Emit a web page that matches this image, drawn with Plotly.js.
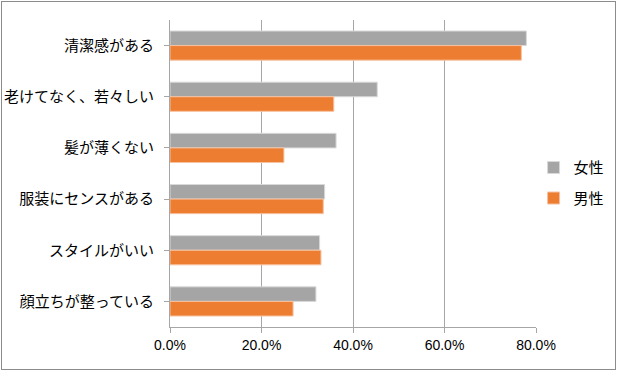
<!DOCTYPE html>
<html>
<head>
<meta charset="utf-8">
<script src="https://cdn.plot.ly/plotly-3.0.1.min.js"></script>
<style>
body{margin:0;padding:0;background:#fff;}
#wrap{position:relative;width:619px;height:373px;}
#chart{width:619px;height:373px;}
#frame{position:absolute;left:1px;top:1px;width:615px;height:369px;border:1px solid #8c8c8c;box-sizing:border-box;pointer-events:none;}
</style>
</head>
<body>
<div id="wrap"><div id="chart"></div><div id="frame"></div></div>
<script>
const categories = ["清潔感がある","老けてなく、若々しい","髪が薄くない","服装にセンスがある","スタイルがいい","顔立ちが整っている"];
const female = [77.9, 45.3, 36.3, 33.8, 32.7, 31.9];
const male = [76.8, 35.8, 24.9, 33.5, 33.0, 26.9];
const seriesNames = ["女性","男性"];
const tickVals = [0, 20, 40, 60, 80];
const tickText = ["0.0%","20.0%","40.0%","60.0%","80.0%"];

const jp = '"Noto Sans CJK JP", "Noto Sans", sans-serif';
const traces = [
  {type:'bar', orientation:'h', name:seriesNames[0], y:categories, x:female, legendgroup:'f',
   marker:{color:'#A5A5A5', line:{color:'#d9d9d9', width:1}}},
  {type:'bar', orientation:'h', name:seriesNames[1], y:categories, x:male, legendgroup:'m',
   marker:{color:'#ED7D31', line:{color:'#f6c2a0', width:1}}}
];
const layout = {
  width:619, height:373,
  margin:{l:170, r:83, t:20, b:46, autoexpand:false},
  paper_bgcolor:'#fff', plot_bgcolor:'#fff',
  barmode:'group', bargap:0.43, bargroupgap:0,
  font:{family:jp, size:15, color:'#000'},
  xaxis:{range:[0,80], tickvals:tickVals, ticktext:tickText,
         showgrid:true, gridcolor:'#a6a6a6', gridwidth:1,
         showline:true, linecolor:'#a6a6a6', linewidth:1,
         ticks:'outside', ticklen:5, tickcolor:'#a6a6a6',
         tickfont:{family:'"Liberation Sans", Arial, sans-serif', size:14, color:'#000'},
         zeroline:false, fixedrange:true, automargin:false},
  yaxis:{autorange:'reversed', showline:true, linecolor:'#a6a6a6', linewidth:1,
         ticks:'outside', ticklen:5, tickcolor:'#a6a6a6', ticklabelstandoff:7,
         tickfont:{family:jp, size:15, color:'#000'}, showgrid:false, fixedrange:true, automargin:false},
  legend:{xref:'container', yref:'container', x:0.862, y:0.51, xanchor:'left', yanchor:'middle', traceorder:'grouped',
          font:{family:jp, size:15, color:'#000'}, itemwidth:30, tracegroupgap:8,
          bgcolor:'rgba(0,0,0,0)'},
  showlegend:true
};
Plotly.newPlot('chart', traces, layout, {displayModeBar:false, staticPlot:true});
</script>
</body>
</html>
